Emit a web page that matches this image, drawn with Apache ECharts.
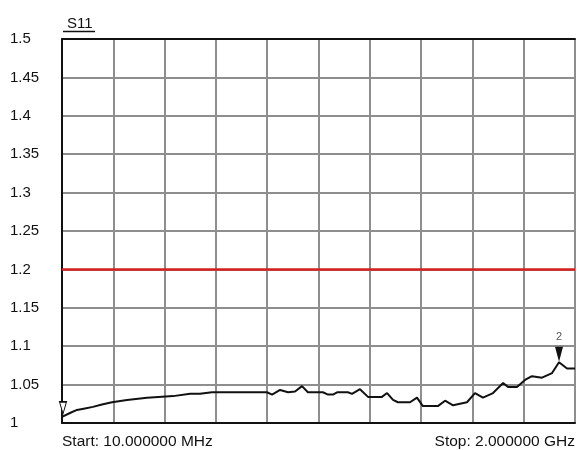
<!DOCTYPE html>
<html>
<head>
<meta charset="utf-8">
<script src="https://cdn.jsdelivr.net/npm/echarts@6/dist/echarts.min.js"></script>
<style>
html,body{margin:0;padding:0;background:#fff;}
#chart{width:577px;height:450px;}
</style>
</head>
<body>
<div id="chart"></div>
<script>
// Frequency (MHz) of each trace point
var freqMHz = [10, 41, 68, 99, 130, 165, 204, 262, 340, 441, 507, 545, 592, 662, 747, 805, 825, 856, 887, 914, 941, 964, 1022, 1042, 1061, 1077, 1119, 1135, 1166, 1197, 1251, 1271, 1294, 1313, 1360, 1387, 1410, 1468, 1496, 1527, 1581, 1612, 1643, 1682, 1721, 1740, 1775, 1806, 1833, 1872, 1911, 1938, 1969, 2000];
// S11 (VSWR) values
var s11 = [1.008, 1.013, 1.017, 1.019, 1.021, 1.024, 1.027, 1.030, 1.033, 1.035, 1.038, 1.038, 1.040, 1.040, 1.040, 1.040, 1.037, 1.043, 1.040, 1.041, 1.048, 1.040, 1.040, 1.037, 1.037, 1.040, 1.040, 1.038, 1.044, 1.034, 1.034, 1.039, 1.030, 1.027, 1.027, 1.033, 1.022, 1.022, 1.029, 1.023, 1.027, 1.039, 1.033, 1.039, 1.052, 1.047, 1.047, 1.056, 1.061, 1.059, 1.065, 1.079, 1.071, 1.071];
var limitValue = 1.2;
var yTickLabels = ['1', '1.05', '1.1', '1.15', '1.2', '1.25', '1.3', '1.35', '1.4', '1.45', '1.5'];
var startFreq = 10, stopFreq = 2000;
var startLabel = 'Start: 10.000000 MHz';
var stopLabel = 'Stop: 2.000000 GHz';
var traceName = 'S11';
var marker1 = [10, 1.008];
var marker2 = [1938, 1.079];

var FONT = '"Liberation Sans", Arial, sans-serif';
var chart = echarts.init(document.getElementById('chart'));
var traceData = freqMHz.map(function (f, i) { return [f, s11[i]]; });

chart.setOption({
  backgroundColor: '#fff',
  animation: false,
  grid: { left: 62, top: 39, width: 513, height: 384, containLabel: false },
  title: {
    text: traceName, left: 62, top: 11,
    textStyle: { fontFamily: FONT, fontSize: 15, fontWeight: 'normal', color: '#111' }
  },
  graphic: [
    { type: 'line', shape: { x1: 63, y1: 31.5, x2: 95, y2: 31.5 }, style: { stroke: '#111', lineWidth: 1.5 } },
    { type: 'text', left: 62, top: 434, style: { text: startLabel, font: '15.5px ' + FONT, fill: '#111' } },
    { type: 'text', right: 2, top: 434, style: { text: stopLabel, font: '15.5px ' + FONT, fill: '#111' } }
  ],
  xAxis: [
    {
      type: 'value', min: startFreq, max: stopFreq, position: 'bottom',
      axisLine: { show: true, onZero: false, lineStyle: { color: '#111', width: 2 } },
      axisTick: { show: false }, axisLabel: { show: false }, splitLine: { show: false }
    },
    {
      type: 'value', min: 0, max: 10, interval: 1, position: 'top',
      axisLine: { show: true, onZero: false, lineStyle: { color: '#111', width: 2 } },
      axisTick: { show: false }, axisLabel: { show: false },
      splitLine: { show: true, lineStyle: { color: '#8e8e8e', width: 2 } }
    }
  ],
  yAxis: {
    type: 'value', min: 1, max: 1.5, interval: 0.05,
    axisLine: { show: true, onZero: false, lineStyle: { color: '#111', width: 2 } },
    axisTick: { show: false },
    axisLabel: {
      align: 'left', margin: 52, fontFamily: FONT, fontSize: 15, color: '#111',
      formatter: function (v) { return yTickLabels[Math.round((v - 1) / 0.05)]; }
    },
    splitLine: { show: true, lineStyle: { color: '#8e8e8e', width: 2 } }
  },
  series: [
    {
      type: 'line', name: traceName, data: traceData, xAxisIndex: 0,
      showSymbol: false, symbol: 'none',
      lineStyle: { color: '#111', width: 2 },
      z: 5,
      markLine: {
        silent: true, symbol: 'none', label: { show: false },
        lineStyle: { color: '#d42020', width: 2.5, type: 'solid' },
        data: [{ yAxis: limitValue }]
      },
      markPoint: {
        silent: true,
        data: [
          {
            coord: marker1, symbol: 'path://M0,0 L10,0 L5,20 Z', symbolSize: [7, 12],
            symbolOffset: [1, -9],
            itemStyle: { color: '#fff', borderColor: '#111', borderWidth: 1.2 },
            label: { show: false }
          },
          {
            coord: marker2, symbol: 'path://M0,0 L10,0 L5,20 Z', symbolSize: [8, 15],
            symbolOffset: [0, -8],
            itemStyle: { color: '#111' },
            label: { show: true, position: 'top', distance: 4, formatter: '2', fontFamily: FONT, fontSize: 11, color: '#555' }
          }
        ]
      }
    }
  ]
});
</script>
</body>
</html>
